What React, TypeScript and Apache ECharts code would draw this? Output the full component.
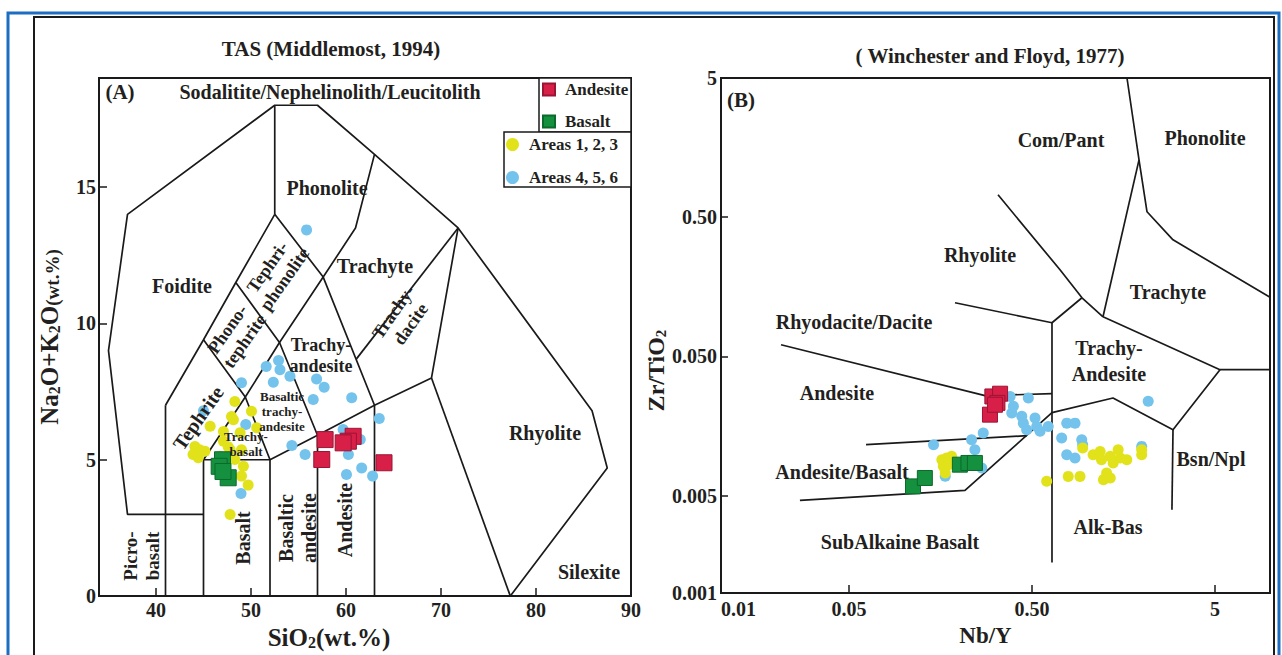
import React, { useEffect, useRef } from "react";
import * as echarts from "echarts";

const FONT = '"Liberation Serif", "Times New Roman", serif';
const INK = "#231f20";

// ---------- TAS panel (SiO2 vs Na2O+K2O, wt.%) ----------
const tasAndesite: number[][] = [
  [57.8, 5.74], [60.75, 5.86], [60.25, 5.68], [59.7, 5.62], [57.45, 5.01], [64.0, 4.89],
];
const tasBasalt: number[][] = [
  [47.0, 5.0], [46.65, 4.76], [47.6, 4.34], [47.05, 4.57],
];
const tasAreas123: number[][] = [
  [48.3, 7.14], [48.15, 6.47], [48.85, 5.99], [45.7, 6.23], [44.1, 5.49], [44.6, 5.37],
  [43.9, 5.19], [44.45, 5.07], [45.15, 5.31], [47.1, 5.68], [50.05, 6.78], [50.6, 6.17],
  [46.75, 5.13], [48.3, 5.01], [49.2, 4.76], [49.0, 4.4], [49.7, 4.07], [47.8, 2.99],
  [47.6, 5.48], [47.8, 5.37], [49.0, 5.37], [47.95, 6.59], [47.1, 6.04],
];
const tasAreas456: number[][] = [
  [51.6, 8.42], [52.9, 8.64], [53.05, 8.3], [52.35, 7.84], [54.1, 8.06], [49.0, 7.82],
  [56.9, 7.96], [57.7, 7.66], [56.55, 7.21], [60.6, 7.27], [63.5, 6.51], [49.45, 6.29],
  [54.3, 5.52], [55.7, 5.19], [59.7, 6.11], [61.5, 5.74], [60.25, 5.19], [61.65, 4.7],
  [60.05, 4.46], [62.8, 4.4], [48.95, 3.76], [45.0, 6.8], [55.85, 13.43],
];

// Middlemost (1994) field boundaries
const tasBoundaries: number[][][] = [
  [[41, 3], [37, 3], [35, 9], [37, 14], [52.5, 18], [57, 18], [63, 16.2], [71.8, 13.5], [85.9, 6.8], [87.5, 4.7], [77.3, 0]],
  [[41, 0], [41, 7]],
  [[41, 7], [45, 9.4], [48.4, 11.5], [52.5, 14]],
  [[52.5, 14], [52.5, 18]],
  [[52.5, 14], [57.6, 11.7], [63, 7]],
  [[57.6, 11.7], [61, 13.5], [63, 16.2]],
  [[41, 3], [45, 3]],
  [[45, 0], [45, 5], [49.4, 7.3], [53, 9.3], [57.6, 11.7]],
  [[45, 5], [52, 5], [57, 5.9], [63, 7], [69, 8], [71.8, 13.5]],
  [[52, 0], [52, 5]],
  [[57, 0], [57, 5.9]],
  [[63, 0], [63, 7]],
  [[69, 8], [77.3, 0]],
  [[45, 9.4], [49.4, 7.3], [52, 5]],
  [[48.4, 11.5], [53, 9.3], [57, 5.9]],
  [[61.1, 8.7], [71.8, 13.5]],
];

const tasXLabels = [40, 50, 60, 70, 80, 90];
const tasXTicks = [40, 50, 60, 70, 80];
const tasYLabels = [0, 5, 10, 15];
const tasYTicks = [5, 10, 15];

// ---------- Winchester & Floyd panel (Nb/Y vs Zr/TiO2) ----------
const wfAndesite: number[][] = [
  [0.304, 0.0258], [0.335, 0.027], [0.324, 0.0232], [0.295, 0.0191], [0.314, 0.0225],
];
const wfBasalt: number[][] = [
  [0.112, 0.00583], [0.13, 0.0067], [0.202, 0.00835], [0.225, 0.00859], [0.244, 0.00859],
];
const wfAreas123: number[][] = [
  [0.161, 0.00907], [0.171, 0.00933], [0.182, 0.00958], [0.164, 0.00812], [0.175, 0.00835],
  [0.168, 0.00728], [0.19, 0.00878],
  [0.947, 0.011], [1.08, 0.00985], [1.18, 0.0104], [1.2, 0.00907], [1.34, 0.00958],
  [1.39, 0.00859], [1.48, 0.0107], [1.52, 0.00933], [1.65, 0.00907], [1.99, 0.00985],
  [1.99, 0.0107], [0.79, 0.00688], [0.916, 0.00688], [1.34, 0.0067], [1.23, 0.00652],
  [0.602, 0.00634], [1.28, 0.00728],
];
const wfAreas456: number[][] = [
  [0.38, 0.0258], [0.478, 0.0252], [0.396, 0.0219], [0.388, 0.0196], [0.44, 0.0186],
  [0.52, 0.0181], [0.449, 0.0166], [0.531, 0.0157], [0.468, 0.0149], [0.554, 0.0145],
  [0.614, 0.0157], [0.271, 0.0141], [0.234, 0.0126], [0.145, 0.0116], [0.244, 0.0107],
  [0.266, 0.0079], [0.168, 0.0069], [2.16, 0.0238], [0.775, 0.0166], [0.86, 0.0166],
  [0.727, 0.013], [0.936, 0.0126], [0.775, 0.00985], [0.86, 0.00933], [1.99, 0.0113],
  [0.947, 0.0116],
];

// Winchester & Floyd (1977) field boundaries
const wfBoundaries: number[][][] = [
  [[1.654, 5], [1.924, 1.292], [2.128, 0.547], [2.951, 0.344], [10, 0.133]],
  [[1.924, 1.292], [1.223, 0.0964]],
  [[0.3264, 0.7244], [0.712, 0.2096], [0.939, 0.132], [1.223, 0.0964]],
  [[1.223, 0.0964], [5.33, 0.04015], [10, 0.04015]],
  [[0.19, 0.1215], [0.6437, 0.0873], [0.939, 0.132]],
  [[0.6437, 0.0873], [0.6437, 0.001653]],
  [[0.02128, 0.06071], [0.2771, 0.02613], [0.6437, 0.02701]],
  [[0.06201, 0.01163], [0.47, 0.01349]],
  [[0.027, 0.004629], [0.2154, 0.005462], [0.6437, 0.01973], [1.387, 0.02515], [2.951, 0.01489], [5.33, 0.04015]],
  [[2.951, 0.01489], [2.912, 0.003969]],
];

const wfXLabelValues = [0.010001, 0.05, 0.5, 5];
const wfXLabelTexts = ["0.01", "0.05", "0.50", "5"];
const wfXTicks = [0.05, 0.5, 5];
const wfYLabelValues = [0.0010001, 0.005, 0.05, 0.5, 4.9999];
const wfYLabelTexts = ["0.001", "0.005", "0.050", "0.50", "5"];
const wfYTicks = [0.005, 0.05, 0.5];

// Field names: [text, x, y, rotation (deg), font size]
const tasFieldLabels: [string, number, number, number, number][] = [
  ["(A)", 120, 92, 0, 21],
  ["Sodalitite/Nephelinolith/Leucitolith", 330, 92, 0, 20],
  ["Foidite", 182, 286, 0, 20],
  ["Phonolite", 327, 188, 0, 20],
  ["Trachyte", 375, 266, 0, 20],
  ["Tephri-\nphonolite", 276, 273, 55, 18],
  ["Phono-\ntephrite", 236, 335, 55, 18],
  ["Trachy-\nandesite", 321, 355, 0, 18],
  ["Trachy-\ndacite", 402, 318, 55, 18],
  ["Tephrite", 198, 418, 55, 20],
  ["Basaltic\ntrachy-\nandesite", 282, 411, 0, 13],
  ["Trachy-\nbasalt", 246, 444, 0, 13],
  ["Basalt", 243, 538, 90, 20],
  ["Basaltic\nandesite", 297, 528, 90, 20],
  ["Andesite", 345, 520, 90, 20],
  ["Picro-\nbasalt", 141, 556, 90, 19],
  ["Rhyolite", 545, 433, 0, 20],
  ["Silexite", 589, 572, 0, 20],
];
const wfFieldLabels: [string, number, number, number, number][] = [
  ["(B)", 741, 100, 0, 21],
  ["Com/Pant", 1061, 140, 0, 20],
  ["Phonolite", 1205, 138, 0, 20],
  ["Rhyolite", 980, 255, 0, 20],
  ["Trachyte", 1168, 292, 0, 20],
  ["Rhyodacite/Dacite", 854, 322, 0, 20],
  ["Trachy-\nAndesite", 1109, 361, 0, 20],
  ["Andesite", 837, 393, 0, 20],
  ["Andesite/Basalt", 842, 472, 0, 20],
  ["Bsn/Npl", 1211, 459, 0, 20],
  ["Alk-Bas", 1108, 527, 0, 20],
  ["SubAlkaine Basalt", 900, 542, 0, 20],
];

const COLORS = {
  andesite: "#d71f48",
  basalt: "#14903f",
  areas123: "#e2e21b",
  areas456: "#74c3ec",
};

const lookupLabel = (values: number[], texts: string[]) => (v: number) => {
  let best = 0;
  for (let i = 1; i < values.length; i++) {
    if (Math.abs(Math.log(values[i]) - Math.log(v)) < Math.abs(Math.log(values[best]) - Math.log(v))) best = i;
  }
  return texts[best];
};

const tickLabelStyle = {
  fontFamily: FONT,
  fontWeight: "bold" as const,
  fontSize: 20,
  color: INK,
};

const richName = (main: number, sub: number, unit: number) => ({
  t: { fontFamily: FONT, fontWeight: "bold", fontSize: main, color: INK, verticalAlign: "middle" },
  s: { fontFamily: FONT, fontWeight: "bold", fontSize: sub, color: INK, verticalAlign: "bottom" },
  w: { fontFamily: FONT, fontWeight: "bold", fontSize: unit, color: INK, verticalAlign: "bottom" },
});

function boundarySeries(lines: number[][][], idx: number) {
  return lines.map((pts) => ({
    type: "line",
    xAxisIndex: idx,
    yAxisIndex: idx,
    data: pts,
    symbol: "none",
    silent: true,
    z: 1,
    lineStyle: { color: "#1a1a1a", width: 1.7 },
  }));
}

function pointSeries(
  name: string,
  data: number[][],
  idx: number,
  symbol: string,
  size: number,
  color: string,
  border: string | null,
  z: number
) {
  return {
    type: "scatter",
    name,
    xAxisIndex: idx,
    yAxisIndex: idx,
    data,
    symbol,
    symbolSize: size,
    silent: true,
    z,
    itemStyle: {
      color,
      opacity: 1,
      borderColor: border || color,
      borderWidth: border ? 1 : 0,
    },
  };
}

function fieldText(items: [string, number, number, number, number][]) {
  return items.map(([text, x, y, rot, size]) => ({
    type: "text",
    x,
    y,
    rotation: (rot * Math.PI) / 180,
    silent: true,
    z: 50,
    style: {
      text,
      font: `bold ${size}px ${FONT}`,
      fill: INK,
      align: "center",
      verticalAlign: "middle",
      textAlign: "center",
      textVerticalAlign: "middle",
      lineHeight: size >= 20 && text.includes("\n") && rot === 0 ? 26 : Math.round(size * 1.15),
    },
  }));
}

function buildOption() {
  const legendText = {
    fontFamily: FONT,
    fontWeight: "bold",
    fontSize: 17,
    color: INK,
    padding: [0, 0, 0, 5],
  };
  return {
    animation: false,
    backgroundColor: "#ffffff",
    title: [
      {
        text: "TAS (Middlemost, 1994)",
        left: 326,
        top: 33,
        textAlign: "center",
        textStyle: { fontFamily: FONT, fontWeight: "bold", fontSize: 21, color: INK },
      },
      {
        text: "( Winchester and Floyd, 1977)",
        left: 985,
        top: 40,
        textAlign: "center",
        textStyle: { fontFamily: FONT, fontWeight: "bold", fontSize: 21, color: INK },
      },
    ],
    legend: [
      {
        data: [
          { name: "Andesite", icon: "rect" },
          { name: "Basalt", icon: "rect" },
        ],
        orient: "vertical",
        left: 542,
        top: 81,
        z: 20,
        padding: 0,
        itemWidth: 12,
        itemHeight: 12,
        itemGap: 15,
        selectedMode: false,
        textStyle: legendText,
      },
      {
        data: [
          { name: "Areas 1, 2, 3", icon: "circle" },
          { name: "Areas 4, 5, 6", icon: "circle" },
        ],
        orient: "vertical",
        left: 506,
        top: 136,
        z: 20,
        padding: 0,
        itemWidth: 13,
        itemHeight: 13,
        itemGap: 16,
        selectedMode: false,
        textStyle: legendText,
      },
    ],
    grid: [
      { left: 99, top: 78, width: 532, height: 519, show: true, borderColor: "#1a1a1a", borderWidth: 2, backgroundColor: "transparent" },
      { left: 721, top: 78, width: 549, height: 515, show: true, borderColor: "#1a1a1a", borderWidth: 2, backgroundColor: "transparent" },
    ],
    xAxis: [
      {
        type: "value",
        gridIndex: 0,
        min: 34,
        max: 90,
        splitLine: { show: false },
        axisLine: { show: true, onZero: false, lineStyle: { color: "#1a1a1a", width: 2 } },
        axisTick: { show: true, inside: true, length: 8, customValues: tasXTicks, lineStyle: { color: "#1a1a1a", width: 1.5 } },
        axisLabel: { ...tickLabelStyle, customValues: tasXLabels, margin: 4 },
        name: "{t|SiO}{s|2}{t|(wt.%)}",
        nameLocation: "middle",
        nameGap: 24,
        nameTextStyle: { rich: richName(25, 16, 19), padding: [0, 72, 0, 0] },
      },
      {
        type: "log",
        logBase: 10,
        gridIndex: 1,
        min: 0.01,
        max: 10,
        splitLine: { show: false },
        axisLine: { show: true, onZero: false, lineStyle: { color: "#1a1a1a", width: 2 } },
        axisTick: { show: true, inside: true, length: 8, customValues: wfXTicks, lineStyle: { color: "#1a1a1a", width: 1.5 } },
        axisLabel: {
          ...tickLabelStyle,
          customValues: wfXLabelValues,
          margin: 6,
          alignMinLabel: "left",
          formatter: lookupLabel(wfXLabelValues, wfXLabelTexts),
        },
        name: "Nb/Y",
        nameLocation: "middle",
        nameGap: 20,
        nameTextStyle: { fontFamily: FONT, fontWeight: "bold", fontSize: 23, color: INK, padding: [0, 20, 0, 0] },
      },
    ],
    yAxis: [
      {
        type: "value",
        gridIndex: 0,
        min: 0,
        max: 19,
        splitLine: { show: false },
        axisLine: { show: true, onZero: false, lineStyle: { color: "#1a1a1a", width: 2 } },
        axisTick: { show: true, inside: true, length: 8, customValues: tasYTicks, lineStyle: { color: "#1a1a1a", width: 1.5 } },
        axisLabel: { ...tickLabelStyle, customValues: tasYLabels, margin: 3 },
        name: "{t|Na}{s|2}{t|O+K}{s|2}{t|O}{w|(wt.%)}",
        nameLocation: "middle",
        nameGap: 37,
        nameTextStyle: { rich: richName(25, 16, 19) },
      },
      {
        type: "log",
        logBase: 10,
        gridIndex: 1,
        min: 0.001,
        max: 5,
        splitLine: { show: false },
        axisLine: { show: true, onZero: false, lineStyle: { color: "#1a1a1a", width: 2 } },
        axisTick: { show: true, inside: true, length: 7, customValues: wfYTicks, lineStyle: { color: "#1a1a1a", width: 1.5 } },
        axisLabel: {
          ...tickLabelStyle,
          customValues: wfYLabelValues,
          margin: 4,
          formatter: lookupLabel(wfYLabelValues, wfYLabelTexts),
        },
        name: "{t|Zr/TiO}{s|2}",
        nameLocation: "middle",
        nameGap: 52,
        nameTextStyle: { rich: richName(24, 15, 19), padding: [0, 70, 0, 0] },
      },
    ],
    series: [
      ...boundarySeries(tasBoundaries, 0),
      ...boundarySeries(wfBoundaries, 1),
      pointSeries("Areas 4, 5, 6", tasAreas456, 0, "circle", 11, COLORS.areas456, null, 3),
      pointSeries("Areas 1, 2, 3", tasAreas123, 0, "circle", 11, COLORS.areas123, null, 4),
      pointSeries("Andesite", tasAndesite, 0, "rect", 16, COLORS.andesite, "#9c1434", 6),
      pointSeries("Basalt", tasBasalt, 0, "rect", 16, COLORS.basalt, "#0c6a2c", 6),
      pointSeries("Areas 4, 5, 6", wfAreas456, 1, "circle", 11, COLORS.areas456, null, 3),
      pointSeries("Areas 1, 2, 3", wfAreas123, 1, "circle", 11, COLORS.areas123, null, 4),
      pointSeries("Andesite", wfAndesite, 1, "rect", 15, COLORS.andesite, "#9c1434", 6),
      pointSeries("Basalt", wfBasalt, 1, "rect", 15, COLORS.basalt, "#0c6a2c", 6),
    ],
    graphic: {
      elements: [
        {
          type: "rect",
          silent: true,
          z: -5,
          shape: { x: 8, y: 13, width: 1271, height: 700 },
          style: { fill: "none", stroke: "#1b6ec2", lineWidth: 3 },
        },
        {
          type: "rect",
          silent: true,
          z: -5,
          shape: { x: 34, y: 17, width: 1240, height: 700 },
          style: { fill: "none", stroke: "#1a1a1a", lineWidth: 2 },
        },
        {
          type: "rect",
          silent: true,
          z: 2,
          shape: { x: 539, y: 78, width: 92, height: 54 },
          style: { fill: "#ffffff", stroke: "#1a1a1a", lineWidth: 1.5 },
        },
        {
          type: "rect",
          silent: true,
          z: 2,
          shape: { x: 504, y: 132, width: 127, height: 55 },
          style: { fill: "#ffffff", stroke: "#1a1a1a", lineWidth: 1.5 },
        },
        ...fieldText(tasFieldLabels),
        ...fieldText(wfFieldLabels),
      ],
    },
  };
}

export default function App() {
  const ref = useRef<HTMLDivElement>(null);
  useEffect(() => {
    if (!ref.current) return;
    const chart = echarts.init(ref.current, null, { renderer: "svg" });
    chart.setOption(buildOption() as any);
    return () => chart.dispose();
  }, []);
  return (
    <div
      ref={ref}
      style={{ position: "fixed", left: 0, top: 0, width: 1282, height: 655, background: "#ffffff" }}
    />
  );
}
